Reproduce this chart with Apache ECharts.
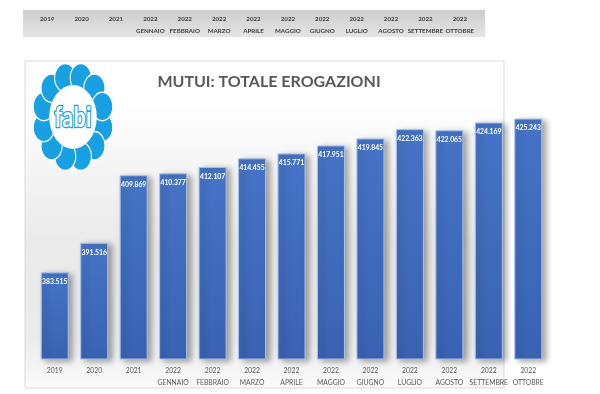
<!DOCTYPE html>
<html><head><meta charset="utf-8">
<script src="https://cdn.jsdelivr.net/npm/echarts@6/dist/echarts.min.js"></script>
<style>html,body{margin:0;padding:0;background:#fff}#c{width:600px;height:394px}</style>
</head><body><div id="c"></div>
<script>
var categories = ['2019','2020','2021','2022\nGENNAIO','2022\nFEBBRAIO','2022\nMARZO','2022\nAPRILE','2022\nMAGGIO','2022\nGIUGNO','2022\nLUGLIO','2022\nAGOSTO','2022\nSETTEMBRE','2022\nOTTOBRE'];
var values = [383.515, 391.516, 409.869, 410.377, 412.107, 414.455, 415.771, 417.951, 419.845, 422.363, 422.065, 424.169, 425.243];
var valueLabels = ['383.515','391.516','409.869','410.377','412.107','414.455','415.771','417.951','419.845','422.363','422.065','424.169','425.243'];
var titleText = 'MUTUI: TOTALE EROGAZIONI';

var narrow = "Lato, sans-serif";
var chart = echarts.init(document.getElementById('c'), null, {renderer:'canvas'});

var petals = [];
var n = 12;
for (var i = 0; i < n; i++) {
  var a = (i / n) * Math.PI * 2 + Math.PI / 12;
  petals.push({type:'circle', shape:{cx: Math.cos(a)*28, cy: Math.sin(a)*28, r: 9.8}, style:{fill:'#19a0e3', stroke:'#ffffff', lineWidth:1}});
}
petals.push({type:'circle', shape:{cx:0, cy:0, r:22}, style:{fill:'#ffffff'}});

chart.setOption({
  animation:false,
  graphic:[
    {type:'rect', shape:{x:23, y:10, width:462, height:27}, style:{fill:new echarts.graphic.LinearGradient(0,0,0,1,[{offset:0,color:'#cdcdcd'},{offset:0.5,color:'#d9d9d9'},{offset:1,color:'#e4e4e4'}])}, z:-10},
    {type:'rect', shape:{x:25, y:61, width:479, height:327}, style:{fill:new echarts.graphic.LinearGradient(0,0,0,1,[{offset:0,color:'#ffffff'},{offset:0.12,color:'#ffffff'},{offset:0.55,color:'#eaeaea'},{offset:0.85,color:'#ececec'},{offset:1,color:'#fbfbfb'}]), stroke:'#d9d9d9', lineWidth:1}, z:-10},
    {type:'group', x:73, y:117, scaleX:1.08, scaleY:1.45, children:petals, z:5},
    {type:'text', x:73, y:118, scaleY:1.3, style:{text:'fabi', fontFamily:'Lato', fontWeight:'bold', fontSize:22, fill:'#ffffff', stroke:'#19a0e3', lineWidth:2, textAlign:'center', textVerticalAlign:'middle'}, z:6}
  ],
  title:{text:titleText, left:264, top:69, textAlign:'center', textStyle:{fontFamily:'Lato', fontWeight:'bold', fontSize:16, color:'#595959'}},
  grid:[
    {left:35, right:52, top:101, bottom:35},
    {left:30, right:123, top:0, height:10}
  ],
  xAxis:[
    {type:'category', gridIndex:0, data:categories, axisLine:{show:false}, axisTick:{show:false},
     axisLabel:{interval:0, color:'#595959', fontFamily:narrow, fontSize:6.8, lineHeight:12, margin:6}},
    {type:'category', gridIndex:1, data:categories, axisLine:{show:false}, axisTick:{show:false},
     axisLabel:{interval:0, color:'#404040', fontFamily:narrow, fontWeight:'bold', fontSize:6.2, lineHeight:12, margin:3}}
  ],
  yAxis:[
    {type:'value', gridIndex:0, min:360, max:430, show:false, splitLine:{show:false}},
    {type:'value', gridIndex:1, show:false, splitLine:{show:false}}
  ],
  series:[{
    type:'bar', xAxisIndex:0, yAxisIndex:0, data:values, barWidth:28,
    itemStyle:{
      color:new echarts.graphic.LinearGradient(0,0,0,1,[{offset:0,color:'#4674c6'},{offset:1,color:'#3a62b2'}]),
      borderColor:'#a9c2ea', borderWidth:1,
      shadowColor:'rgba(0,0,0,0.35)', shadowBlur:6, shadowOffsetX:4, shadowOffsetY:2
    },
    label:{show:true, position:'insideTop', distance:6, color:'#ffffff', fontFamily:narrow, fontWeight:'bold', fontSize:6.8,
      formatter:function(p){return valueLabels[p.dataIndex];}}
  }]
});
</script></body></html>
